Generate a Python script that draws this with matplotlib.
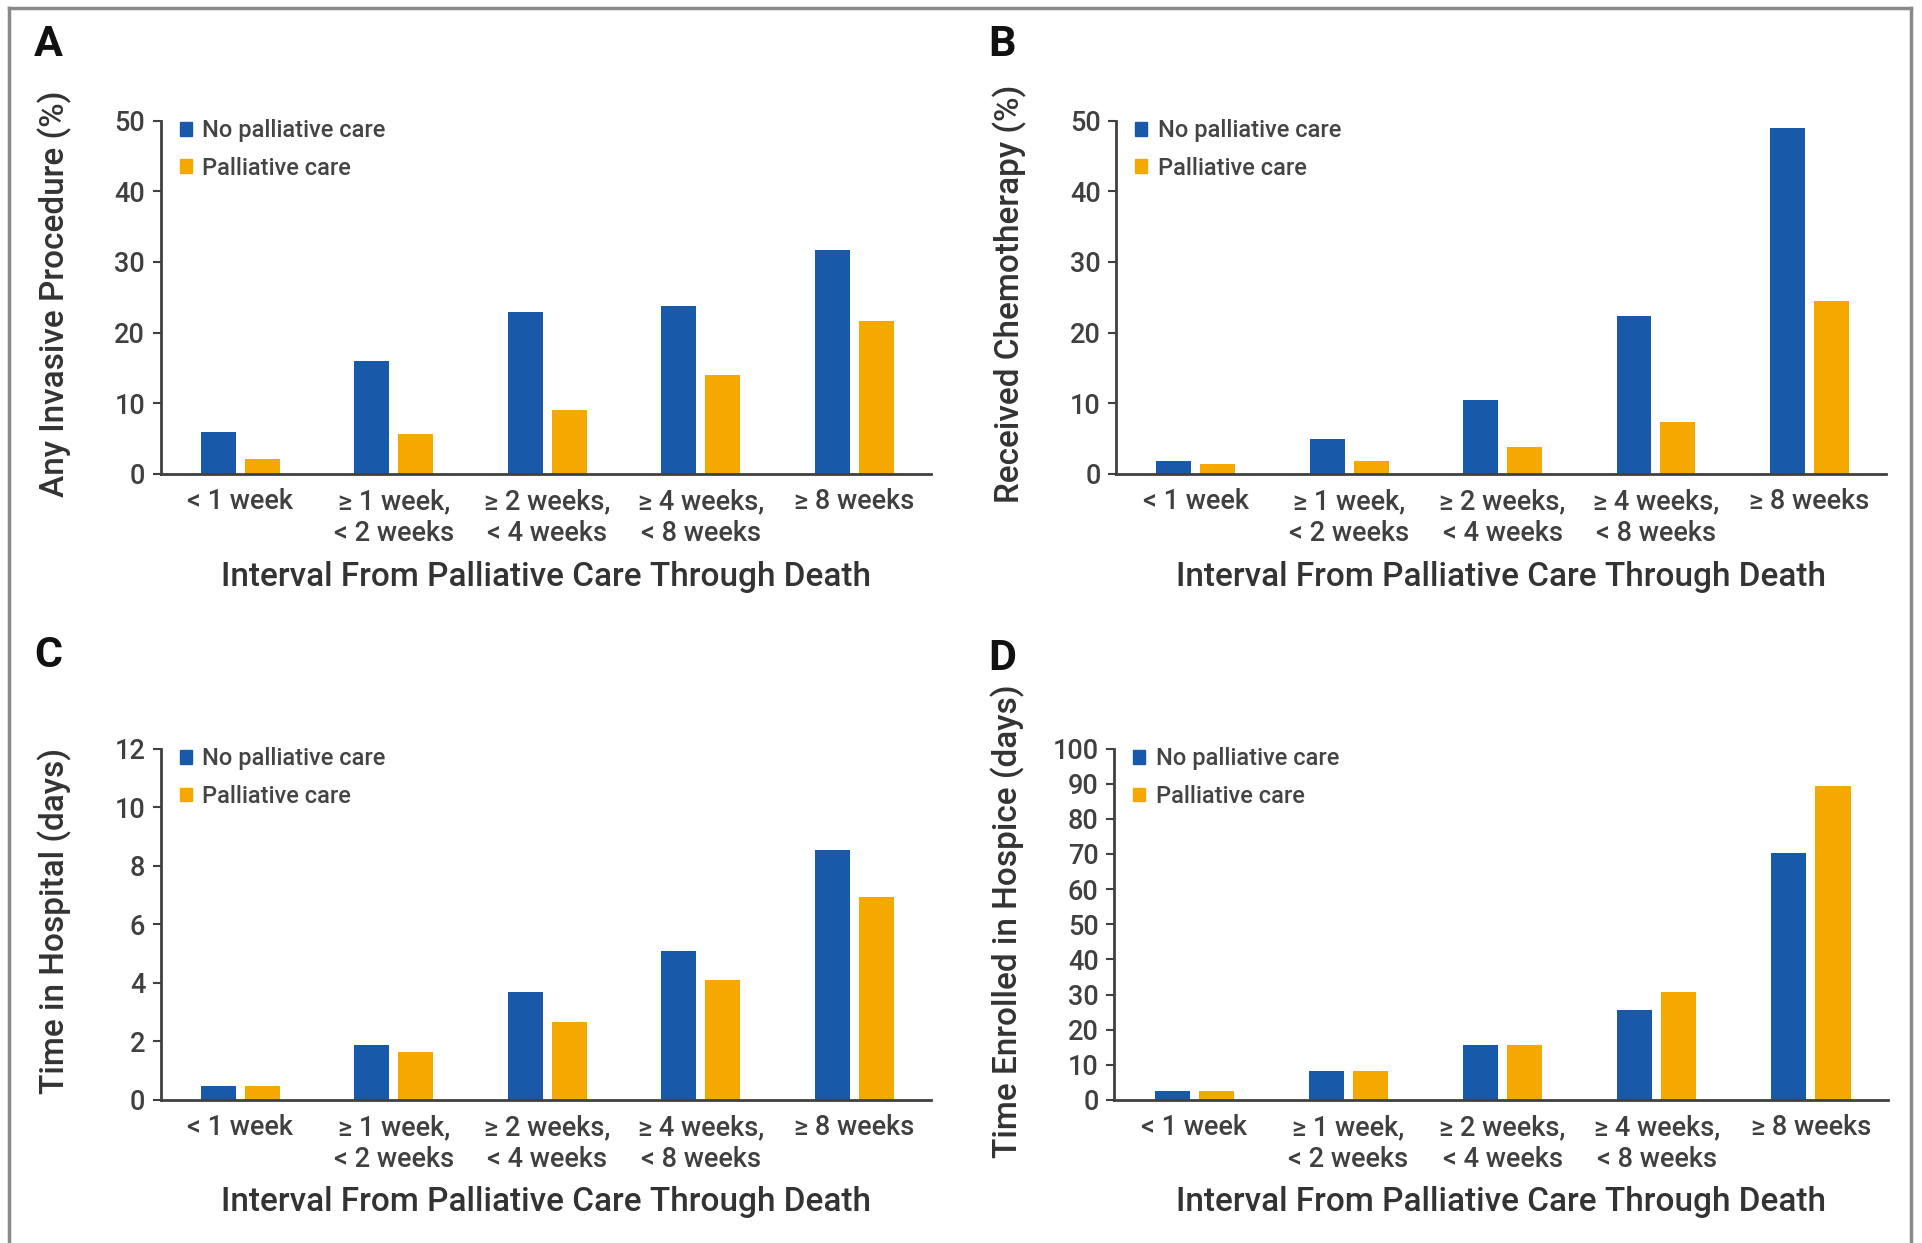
import matplotlib.pyplot as plt
from matplotlib.lines import Line2D
from matplotlib.patches import Patch
import numpy as np

plt.rcParams['font.family'] = ['Roboto', 'Liberation Sans', 'DejaVu Sans']

categories = ['< 1 week', '≥ 1 week,\n< 2 weeks', '≥ 2 weeks,\n< 4 weeks',
              '≥ 4 weeks,\n< 8 weeks', '≥ 8 weeks']
series_names = ['No palliative care', 'Palliative care']

# A: any invasive procedure (%)
invasive_no_pc = [5.9, 16.0, 22.9, 23.7, 31.7]
invasive_pc = [2.1, 5.6, 9.1, 14.0, 21.6]
# B: received chemotherapy (%)
chemo_no_pc = [1.8, 4.9, 10.4, 22.3, 49.0]
chemo_pc = [1.4, 1.8, 3.8, 7.4, 24.4]
# C: time in hospital (days)
hospital_no_pc = [0.47, 1.89, 3.67, 5.08, 8.52]
hospital_pc = [0.47, 1.64, 2.65, 4.08, 6.94]
# D: time enrolled in hospice (days)
hospice_no_pc = [2.6, 8.2, 15.7, 25.6, 70.2]
hospice_pc = [2.6, 8.2, 15.7, 30.6, 89.3]

BLUE = '#1859a9'
ORANGE = '#f5a900'
GREY = '#404040'
WEIGHT = 'medium'

fig = plt.figure(figsize=(19.22, 12.43), dpi=100)

W, H = 1922, 1243


def make_ax(left, right, y0, ytop):
    return fig.add_axes([left / W, 1 - y0 / H, (right - left) / W, (y0 - ytop) / H])


panels = [
    (make_ax(160.5, 931, 474, 120.5), invasive_no_pc, invasive_pc,
     'Any Invasive Procedure (%)', np.arange(0, 51, 10), 'A', (34, 24)),
    (make_ax(1116, 1886, 474, 120.5), chemo_no_pc, chemo_pc,
     'Received Chemotherapy (%)', np.arange(0, 51, 10), 'B', (988, 24)),
    (make_ax(160.5, 931, 1100, 748.5), hospital_no_pc, hospital_pc,
     'Time in Hospital (days)', np.arange(0, 13, 2), 'C', (34, 635)),
    (make_ax(1114, 1888, 1100, 748.5), hospice_no_pc, hospice_pc,
     'Time Enrolled in Hospice (days)', np.arange(0, 101, 10), 'D', (988, 638)),
]

x = np.arange(len(categories))
width = 0.228
offset = 0.143

for ax, no_pc, pc, ylabel, yticks, letter, (lx, ly) in panels:
    ax.bar(x - offset, no_pc, width, color=BLUE)
    ax.bar(x + offset, pc, width, color=ORANGE)
    ax.set_xlim(-0.52, 4.5)
    ax.set_ylim(0, yticks[-1])
    ax.set_yticks(yticks)
    ax.set_xticks(x)
    ax.set_xticklabels(categories, fontsize=19.5, color=GREY, linespacing=1.25,
                       fontweight=WEIGHT)
    ax.tick_params(axis='x', length=0, pad=10)
    ax.tick_params(axis='y', labelsize=19.5, labelcolor=GREY, length=6,
                   width=1.5, color=GREY, pad=5)
    for lab in ax.get_yticklabels():
        lab.set_fontweight(WEIGHT)
    for s in ['top', 'right']:
        ax.spines[s].set_visible(False)
    for s in ['left', 'bottom']:
        ax.spines[s].set_linewidth(2)
        ax.spines[s].set_color(GREY)
    ax.set_ylabel(ylabel, fontsize=24, color='#333333', fontweight=WEIGHT)
    ax.yaxis.set_label_coords(-0.115, 0.51)
    ax.set_xlabel('Interval From Palliative Care Through Death', fontsize=24,
                  color='#333333', fontweight=WEIGHT)
    ax.xaxis.set_label_coords(0.5, -0.245)
    handles = [Patch(color=BLUE), Patch(color=ORANGE)]
    ax.legend(handles, series_names, loc='upper left',
              bbox_to_anchor=(0.025, 1.003), frameon=False,
              handlelength=0.5, handleheight=0.5, handletextpad=0.45,
              labelspacing=0.6, borderpad=0, borderaxespad=0,
              labelcolor='#444444', prop={'weight': WEIGHT, 'size': 17})
    fig.text(lx / W, 1 - ly / H, letter, fontsize=31, fontweight='bold',
             ha='left', va='top', color='#111111')

# figure frame (open at the bottom)
frame_kw = dict(transform=fig.transFigure, color='#8a8a8a', linewidth=2.5)
fig.add_artist(Line2D([9 / W, 1911 / W], [1 - 8 / H, 1 - 8 / H], **frame_kw))
fig.add_artist(Line2D([9 / W, 9 / W], [0, 1 - 8 / H], **frame_kw))
fig.add_artist(Line2D([1911 / W, 1911 / W], [0, 1 - 8 / H], **frame_kw))

fig.savefig('out.png', dpi=100, facecolor='white')
